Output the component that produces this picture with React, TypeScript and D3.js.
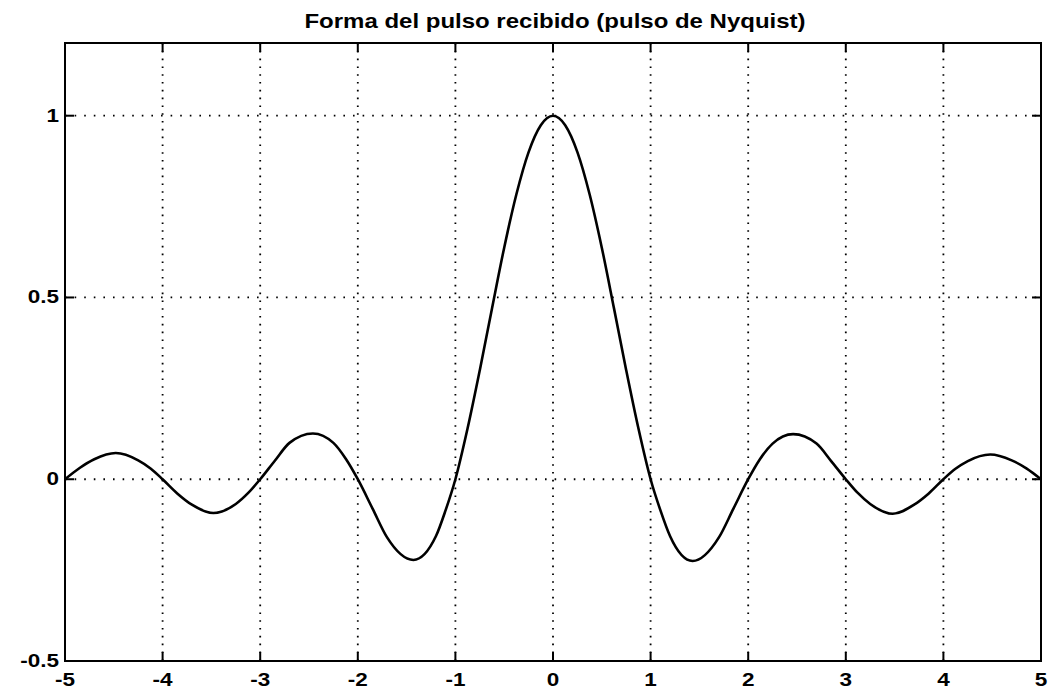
import React from 'react';
import * as d3 from 'd3';

// Data
const title = 'Forma del pulso recibido (pulso de Nyquist)';
const xTicks = [-5, -4, -3, -2, -1, 0, 1, 2, 3, 4, 5];
const xTickLabels = ['-5', '-4', '-3', '-2', '-1', '0', '1', '2', '3', '4', '5'];
const yTicks = [-0.5, 0, 0.5, 1];
const yTickLabels = ['-0.5', '0', '0.5', '1'];
const gridX = [-4, -3, -2, -1, 0, 1, 2, 3, 4];
const gridY = [0, 0.5, 1];

const pulseX = [
  -5, -4.85, -4.7, -4.48, -4.25, -4.12, -4, -3.85, -3.7, -3.48, -3.25, -3.12, -3, -2.85,
  -2.7, -2.46, -2.25, -2.12, -2, -1.85, -1.7, -1.43, -1.2, -1.1, -1, -0.875, -0.75, -0.625,
  -0.5, -0.375, -0.25, -0.125, 0, 0.125, 0.25, 0.375, 0.5, 0.625, 0.75, 0.875, 1, 1.1,
  1.2, 1.43, 1.7, 1.85, 2, 2.12, 2.25, 2.46, 2.7, 2.85, 3, 3.12, 3.25, 3.48, 3.7, 3.85,
  4, 4.12, 4.25, 4.48, 4.7, 4.85, 5,
];
const pulseY = [
  0, 0.031, 0.055, 0.072, 0.052, 0.029, 0, -0.039, -0.07, -0.093, -0.068, -0.037, 0, 0.051,
  0.1, 0.126, 0.1, 0.055, 0, -0.08, -0.16, -0.222, -0.157, -0.085, 0, 0.14, 0.3, 0.47,
  0.637, 0.784, 0.9, 0.974, 1, 0.974, 0.9, 0.784, 0.637, 0.47, 0.3, 0.14, 0, -0.085,
  -0.157, -0.225, -0.16, -0.08, 0, 0.055, 0.098, 0.124, 0.098, 0.05, 0, -0.037, -0.068, -0.095, -0.07, -0.039,
  0, 0.028, 0.05, 0.068, 0.052, 0.03, 0,
];

// Dimensions
const width = 1060;
const height = 691;
const margin = { left: 65, right: 19, top: 43, bottom: 30 };
const plotRight = width - margin.right;
const plotBottom = height - margin.bottom;

const font = 'Liberation Sans, Arial, Helvetica, sans-serif';

export default function App() {
  const xScale = d3.scaleLinear().domain([-5, 5]).range([margin.left, plotRight]);
  const yScale = d3.scaleLinear().domain([-0.5, 1.2]).range([plotBottom, margin.top]);

  const points: [number, number][] = pulseX.map((x, i) => [x, pulseY[i]]);
  const lineGenerator = d3
    .line<[number, number]>()
    .x((d) => xScale(d[0]))
    .y((d) => yScale(d[1]))
    .curve(d3.curveMonotoneX);

  const tickLen = 9;

  return (
    <svg
      width={width}
      height={height}
      style={{ position: 'absolute', left: 0, top: 0, background: '#fff', display: 'block' }}
    >
      {/* grid */}
      {gridX.map((v) => (
        <line
          key={'gx' + v}
          x1={xScale(v)}
          x2={xScale(v)}
          y1={margin.top}
          y2={plotBottom}
          stroke="#000"
          strokeWidth={1.8}
          strokeDasharray="1.6 6.2"
        />
      ))}
      {gridY.map((v) => (
        <line
          key={'gy' + v}
          x1={margin.left}
          x2={plotRight}
          y1={yScale(v)}
          y2={yScale(v)}
          stroke="#000"
          strokeWidth={1.8}
          strokeDasharray="1.6 8"
        />
      ))}

      {/* ticks */}
      {xTicks.map((v) => (
        <g key={'xt' + v}>
          <line x1={xScale(v)} x2={xScale(v)} y1={plotBottom} y2={plotBottom - tickLen} stroke="#000" strokeWidth={2} />
          <line x1={xScale(v)} x2={xScale(v)} y1={margin.top} y2={margin.top + tickLen} stroke="#000" strokeWidth={2} />
        </g>
      ))}
      {yTicks.map((v) => (
        <g key={'yt' + v}>
          <line x1={margin.left} x2={margin.left + tickLen} y1={yScale(v)} y2={yScale(v)} stroke="#000" strokeWidth={2} />
          <line x1={plotRight} x2={plotRight - tickLen} y1={yScale(v)} y2={yScale(v)} stroke="#000" strokeWidth={2} />
        </g>
      ))}

      {/* axes box */}
      <rect
        x={margin.left}
        y={margin.top}
        width={plotRight - margin.left}
        height={plotBottom - margin.top}
        fill="none"
        stroke="#000"
        strokeWidth={2}
      />

      {/* pulse */}
      <path d={lineGenerator(points) || ''} fill="none" stroke="#000" strokeWidth={2.6} />

      {/* tick labels */}
      {xTicks.map((v, i) => (
        <text
          key={'xl' + v}
          transform={`translate(${xScale(v)},${plotBottom + 25}) scale(1.25,1)`}
          textAnchor="middle"
          fontFamily={font}
          fontWeight="bold"
          fontSize={18}
        >
          {xTickLabels[i]}
        </text>
      ))}
      {yTicks.map((v, i) => (
        <text
          key={'yl' + v}
          transform={`translate(${margin.left - 6},${yScale(v) + 6}) scale(1.25,1)`}
          textAnchor="end"
          fontFamily={font}
          fontWeight="bold"
          fontSize={18}
        >
          {yTickLabels[i]}
        </text>
      ))}

      {/* title */}
      <text
        transform={`translate(${(margin.left + plotRight) / 2 + 2},${28}) scale(1.2,1)`}
        textAnchor="middle"
        fontFamily={font}
        fontWeight="bold"
        fontSize={20}
      >
        {title}
      </text>
    </svg>
  );
}
